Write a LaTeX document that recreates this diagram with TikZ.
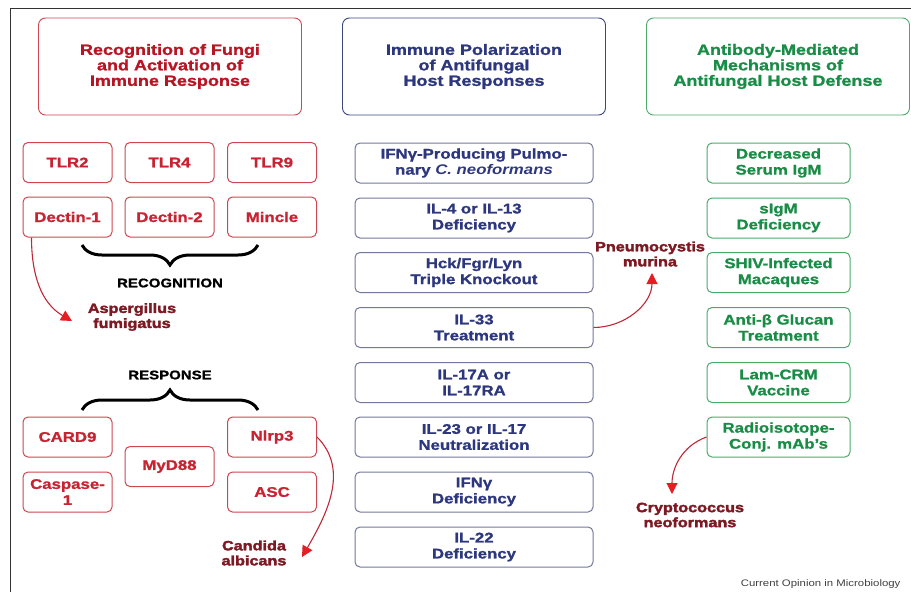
\documentclass[tikz,border=0pt]{standalone}
\usepackage{fontspec}
\setmainfont{Liberation Sans}[FakeStretch=1.2,BoldFeatures={FakeBold=1.2}]
\newfontfamily\heavyfont{Liberation Sans}[FakeStretch=1.2,BoldFeatures={FakeBold=2.4}]
\usepackage{xcolor}
\usepackage{tikz}
\usetikzlibrary{arrows.meta}
\usetikzlibrary{decorations.pathreplacing}

\definecolor{redline}{RGB}{205,70,80}
\definecolor{redtext}{RGB}{200,35,50}
\definecolor{hdrred}{RGB}{185,20,35}
\definecolor{maroon}{RGB}{125,25,35}
\definecolor{bluetext}{RGB}{45,55,125}
\definecolor{blueline}{RGB}{60,70,130}
\definecolor{midline}{RGB}{115,120,155}
\definecolor{greentext}{RGB}{25,140,70}
\definecolor{greenline}{RGB}{75,170,105}
\definecolor{arrowline}{RGB}{190,40,55}
\definecolor{arrowhead}{RGB}{228,30,35}

\begin{document}
\begin{tikzpicture}[x=1pt,y=-1pt,
    hdr/.style={draw,rounded corners=7pt,line width=0.9pt,minimum width=263pt,minimum height=97pt,align=center,font=\fontsize{15}{15.5}\selectfont\bfseries},
    box/.style={draw,rounded corners=5pt,line width=1pt,minimum height=40pt,align=center,font=\fontsize{14}{16}\selectfont\bfseries},
    lbox/.style={box,draw=redline,text=redtext,minimum width=89pt},
    mbox/.style={box,draw=midline,text=bluetext,minimum width=238pt},
    rbox/.style={box,draw=greenline,text=greentext,minimum width=143pt},
    bug/.style={align=center,text=maroon,font=\heavyfont\fontsize{13.5}{15}\selectfont\bfseries},
    hit/.style={draw=arrowline,line width=1.1pt,-{Triangle[length=11pt,width=11pt,color=arrowhead]}},
    curly/.style={decorate,decoration={brace,amplitude=20pt},line width=3pt}]
        \useasboundingbox (0,0) rectangle (911,592);
        \draw[line width=1pt,black!80] (911,8)--(10.5,8)--(10.5,592);

        % headers
        \node[hdr,draw=redline,text=hdrred] (hrec) at (170,66.5){Recognition of Fungi\\and Activation of\\Immune Response};
        \node[hdr,draw=blueline,text=bluetext] (hpol) at (474,66.5){Immune Polarization\\of Antifungal\\Host Responses};
        \node[hdr,draw=greenline,text=greentext] (hab) at (778,66.5){Antibody-Mediated\\Mechanisms of\\Antifungal Host Defense};

        % recognition
        \node[lbox] (tlrtwo) at (67.5,162.5){TLR2};
        \node[lbox] (tlrfour) at (169.5,162.5){TLR4};
        \node[lbox] (tlrnine) at (272,162.5){TLR9};
        \node[lbox] (dectone) at (67.5,217){Dectin-1};
        \node[lbox] (decttwo) at (169.5,217){Dectin-2};
        \node[lbox] (mincle) at (272,217){Mincle};
        \draw[curly] (258,245)--(82,245);
        \node[font=\fontsize{12.5}{15}\selectfont\bfseries] (recog) at (170,283){RECOGNITION};
        \node[bug] (asp) at (132,317){Aspergillus\\fumigatus};
        \coordinate (asptip) at (72,321);
        \draw[hit] ([xshift=9pt]dectone.south west) to[out=-90,in=150] (asptip);

        % response
        \node[font=\fontsize{12.5}{15}\selectfont\bfseries] (resp) at (170,375){RESPONSE};
        \draw[curly] (82,410)--(258,410);
        \node[lbox] (cardnine) at (67.5,437){CARD9};
        \node[lbox] (casp) at (67.5,492){Caspase-\\1};
        \node[lbox] (myd) at (169.5,466.5){MyD88};
        \node[lbox] (nlrp) at (272,437){Nlrp3};
        \node[lbox] (asc) at (272,492){ASC};
        \node[bug] (cand) at (254,553){Candida\\albicans};
        \coordinate (candtip) at (302,557);
        \draw[hit] (nlrp.east) to[out=-45,in=60] (candtip);

        % polarization
        \node[mbox] (pone) at (474,163){IFNγ-Producing Pulmo-\\nary \textit{C. neoformans}};
        \node[mbox] (ptwo) at (474,218){IL-4 or IL-13\\Deficiency};
        \node[mbox] (pthree) at (474,272.5){Hck/Fgr/Lyn\\Triple Knockout};
        \node[mbox] (pfour) at (474,327.5){IL-33\\Treatment};
        \node[mbox] (pfive) at (474,382.5){IL-17A or\\IL-17RA};
        \node[mbox] (psix) at (474,437){IL-23 or IL-17\\Neutralization};
        \node[mbox] (pseven) at (474,492){IFNγ\\Deficiency};
        \node[mbox] (peight) at (474,547){IL-22\\Deficiency};
        \node[bug] (pneu) at (650,254){Pneumocystis\\murina};
        \coordinate (pneutip) at (652,273);
        \draw[hit] (pfour.east) to[out=0,in=-90] (pneutip);

        % antibody
        \node[rbox] (aone) at (778.5,163){Decreased\\Serum IgM};
        \node[rbox] (atwo) at (778.5,218){sIgM\\Deficiency};
        \node[rbox] (athree) at (778.5,272.5){SHIV-Infected\\Macaques};
        \node[rbox] (afour) at (778.5,327.5){Anti-β Glucan\\Treatment};
        \node[rbox] (afive) at (778.5,382.5){Lam-CRM\\Vaccine};
        \node[rbox] (asix) at (778.5,437){Radioisotope-\\Conj. mAb’s};
        \node[bug] (crypto) at (690,515){Cryptococcus\\neoformans};
        \coordinate (cryptip) at (672,494);
        \draw[hit] (asix.west) to[out=200,in=90] (cryptip);

        \node[anchor=base east,font=\fontsize{9.5}{11}\selectfont,text=black!75] (credit) at (904,586){Current Opinion in Microbiology};
\end{tikzpicture}
\end{document}
